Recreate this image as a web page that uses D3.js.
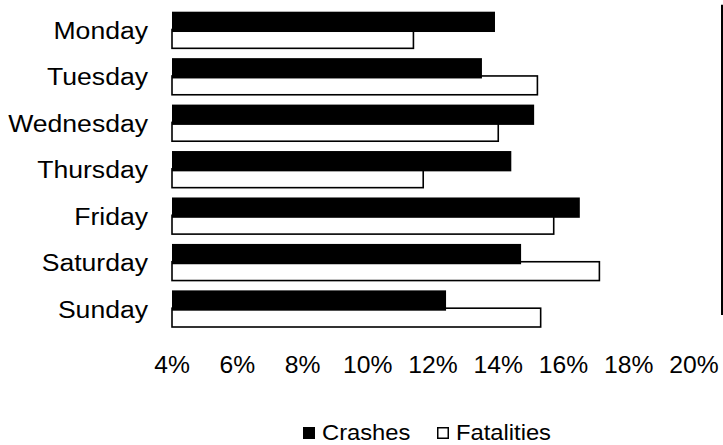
<!DOCTYPE html>
<html><head><meta charset="utf-8">
<script src="https://cdn.jsdelivr.net/npm/d3@7"></script>
<style>body{margin:0;background:#fff}svg{display:block}text{font-family:"Liberation Sans",Arial,sans-serif;fill:#000}</style>
</head><body><svg id="c" width="723" height="445"></svg>
<script>
const days = ["Monday","Tuesday","Wednesday","Thursday","Friday","Saturday","Sunday"];
const crashes = [13.9,13.5,15.1,14.4,16.5,14.7,12.4];
const fatalities = [11.4,15.2,14.0,11.7,15.7,17.1,15.3];
const xTicks = [4,6,8,10,12,14,16,18,20];
const seriesNames = ["Crashes","Fatalities"];

const svg = d3.select("#c");
const x = d3.scaleLinear().domain([4,20]).range([172,694]);
const y = d3.scaleBand().domain(days).range([11.7,328]).paddingInner(0.19).paddingOuter(0);
const sub = d3.scaleBand().domain(seriesNames).range([0,y.bandwidth()]);

const rows = days.map((d,i)=>({day:d,c:crashes[i],f:fatalities[i]}));

svg.append("g").selectAll("rect").data(rows).join("rect")
  .attr("x", x(4)).attr("y", d=>y(d.day)+sub("Fatalities")-1)
  .attr("width", d=>x(d.f)-x(4)).attr("height", sub.bandwidth())
  .attr("fill","#fff").attr("stroke","#000").attr("stroke-width",1.6);
svg.append("g").selectAll("rect").data(rows).join("rect")
  .attr("x", x(4)).attr("y", d=>y(d.day)+sub("Crashes"))
  .attr("width", d=>x(d.c)-x(4)).attr("height", sub.bandwidth()+1.5)
  .attr("fill","#000");

svg.append("g").selectAll("text").data(days).join("text")
  .attr("transform",d=>`translate(148,${y(d)+y.bandwidth()/2+8.5}) scale(1.085,1)`)
  .attr("text-anchor","end").style("font-size","24.5px").text(d=>d);

svg.append("g").selectAll("text").data(xTicks).join("text")
  .attr("transform",d=>`translate(${x(d)},373) scale(1.05,1)`)
  .attr("text-anchor","middle").style("font-size","23.5px").text(d=>d+"%");

svg.append("line").attr("x1",722).attr("x2",722).attr("y1",y.range()[0]-7).attr("y2",y.range()[1]-13)
  .attr("stroke","#000").attr("stroke-width",2);

const lg = svg.append("g");
const legendX = [303,437];
seriesNames.forEach((s,i)=>{
  lg.append("rect").attr("x",legendX[i]+(i?0.75:0)).attr("y",427+(i?0.75:0))
    .attr("width",i?10.5:12).attr("height",i?10.5:12)
    .attr("fill",i?"#fff":"#000").attr("stroke",i?"#000":"none").attr("stroke-width",1.5);
  lg.append("text").attr("transform",`translate(${legendX[i]+19},439.5) scale(1.08,1)`)
    .style("font-size","22px").text(s);
});
</script></body></html>
